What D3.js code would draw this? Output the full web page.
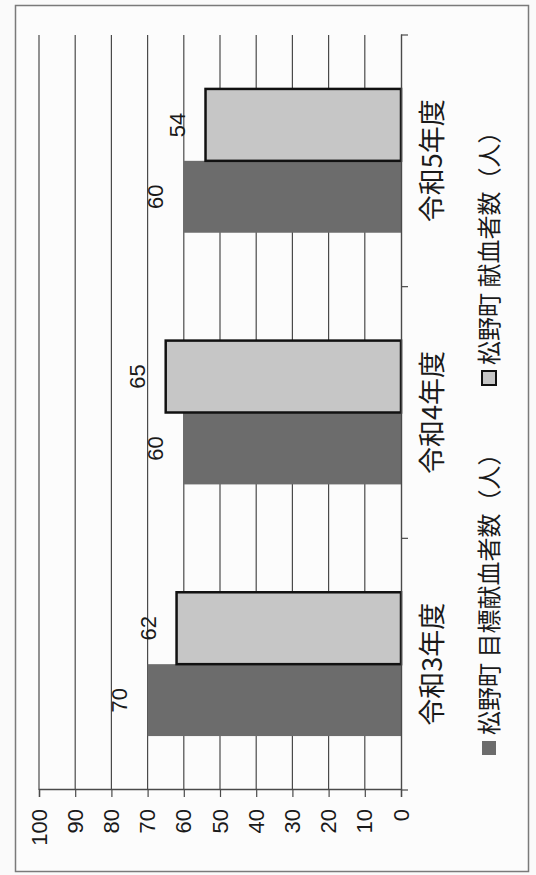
<!DOCTYPE html>
<html>
<head>
<meta charset="utf-8">
<script src="https://cdn.jsdelivr.net/npm/d3@7"></script>
<style>
  html, body { margin: 0; padding: 0; background: #ffffff; }
  svg { display: block; }
  text { font-family: "Noto Sans CJK JP", "Noto Sans", sans-serif; fill: #1a1a1a; }
  .num { font-family: "Liberation Sans", Arial, sans-serif; }
</style>
</head>
<body>
<svg id="chart" width="536" height="875"></svg>
<script>
const categories = ["令和3年度", "令和4年度", "令和5年度"];
const seriesNames = ["松野町 目標献血者数（人）", "松野町 献血者数（人）"];
const targetValues = [70, 60, 60];
const actualValues = [62, 65, 54];
const valueTicks = [0, 10, 20, 30, 40, 50, 60, 70, 80, 90, 100];

const W = 536, H = 875;
const svg = d3.select("#chart");

// page background & frame
svg.append("rect").attr("x", 0).attr("y", 0).attr("width", W).attr("height", H).attr("fill", "#fafafa");
svg.append("rect").attr("x", 15.5).attr("y", 5.5).attr("width", 513).attr("height", 866)
  .attr("fill", "#fcfcfc").attr("stroke", "#7a7a7a").attr("stroke-width", 1.5);

// chart drawn in unrotated frame then rotated 90° counter-clockwise
const g = svg.append("g").attr("transform", `translate(0,${H}) rotate(-90)`);

const uLeft = 85, uRight = 840;   // category axis extent
const vZero = 401, vTop = 39;       // value axis extent

const x0 = d3.scaleBand().domain(categories).range([uLeft, uRight]).padding(0);
const bw = x0.bandwidth();
const x1 = d3.scaleBand().domain(seriesNames)
  .range([bw * 0.75 / 3.5, bw * 2.75 / 3.5]).padding(0);
const y = d3.scaleLinear().domain([0, 100]).range([vZero, vTop]);

// gridlines
g.append("g").selectAll("line").data(valueTicks.filter(t => t > 0)).join("line")
  .attr("x1", uLeft).attr("x2", uRight)
  .attr("y1", d => y(d)).attr("y2", d => y(d))
  .attr("stroke", "#4a4a4a").attr("stroke-width", 1.2);

// value axis (left in unrotated frame)
const yAxis = d3.axisLeft(y).tickValues(valueTicks).tickSize(7).tickPadding(12);
const ya = g.append("g").attr("transform", `translate(${uLeft},0)`).call(yAxis);
ya.select(".domain").attr("stroke", "#4a4a4a").attr("stroke-width", 1.4);
ya.selectAll(".tick line").attr("stroke", "#4a4a4a").attr("stroke-width", 1.2);
ya.selectAll(".tick text").attr("class", "num").attr("font-size", 22).attr("fill", "#1a1a1a")
  .style("font-family", '"Liberation Sans", Arial, sans-serif');

const rows = categories.map((c, i) => ({ cat: c, vals: [
  { s: seriesNames[0], v: targetValues[i] },
  { s: seriesNames[1], v: actualValues[i] }
]}));

const groups = g.append("g").selectAll("g").data(rows).join("g")
  .attr("transform", d => `translate(${x0(d.cat)},0)`);

groups.selectAll("rect").data(d => d.vals).join("rect")
  .attr("x", d => x1(d.s)).attr("width", x1.bandwidth())
  .attr("y", d => y(d.v)).attr("height", d => y(0) - y(d.v))
  .attr("fill", (d, i) => i === 0 ? "#6c6c6c" : "#c6c6c6")
  .attr("stroke", (d, i) => i === 0 ? "none" : "#111")
  .attr("stroke-width", 2.5);

groups.selectAll("text.lbl").data(d => d.vals).join("text").attr("class", "lbl num")
  .attr("x", d => x1(d.s) + x1.bandwidth() / 2)
  .attr("y", d => y(d.v) - 21)
  .attr("text-anchor", "middle").attr("font-size", 22)
  .text(d => d.v);

// category axis (bottom in unrotated frame)
const xAxis = d3.axisBottom(x0).tickSize(0).tickPadding(0).tickFormat(() => "");
const xa = g.append("g").attr("transform", `translate(0,${vZero})`).call(xAxis);
xa.select(".domain").attr("stroke", "#4a4a4a").attr("stroke-width", 1.4);
const catTicks = categories.map(c => x0(c)).concat([uRight]);
g.append("g").selectAll("line").data(catTicks).join("line")
  .attr("x1", d => d).attr("x2", d => d).attr("y1", vZero).attr("y2", vZero + 7)
  .attr("stroke", "#4a4a4a").attr("stroke-width", 1.2);

g.append("g").selectAll("text").data(categories).join("text")
  .attr("x", d => x0(d) + bw / 2).attr("y", 442)
  .attr("text-anchor", "middle").attr("font-size", 27)
  .text(d => d);

// legend
const legendV = 489;
const legendItems = [
  { name: seriesNames[0], u: 120, fill: "#6c6c6c", stroke: "none" },
  { name: seriesNames[1], u: 490, fill: "#c6c6c6", stroke: "#111" }
];
const lg = g.append("g").selectAll("g").data(legendItems).join("g");
lg.append("rect").attr("x", d => d.u).attr("y", legendV - 7).attr("width", 14).attr("height", 14)
  .attr("fill", d => d.fill).attr("stroke", d => d.stroke).attr("stroke-width", 2);
lg.append("text").attr("x", d => d.u + 20).attr("y", legendV + 9)
  .attr("font-size", 24).text(d => d.name);
</script>
</body>
</html>
